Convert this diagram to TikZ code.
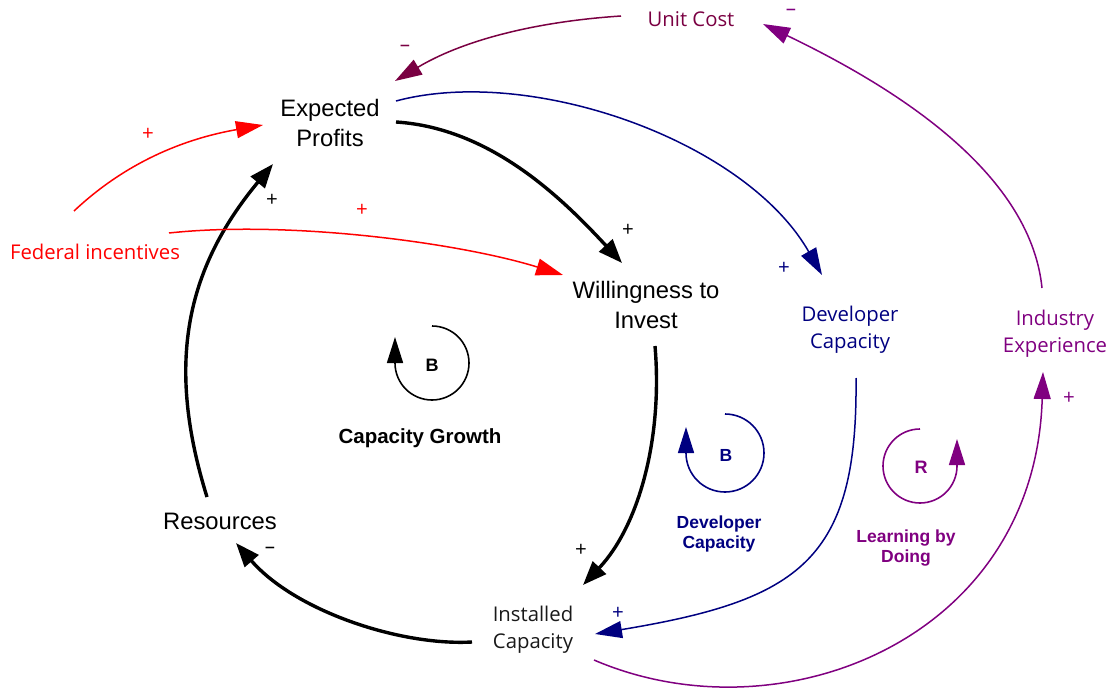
\documentclass[tikz,border=0pt]{standalone}
\usepackage{fontspec}
\setmainfont{Liberation Sans}
\newfontfamily\osans{Open Sans}
\usetikzlibrary{arrows.meta,calc}
\definecolor{cnavy}{RGB}{0,0,128}
\definecolor{cpurple}{RGB}{128,0,128}
\definecolor{cmaroon}{RGB}{122,0,66}
\definecolor{cred}{RGB}{255,0,0}
\begin{document}
\begin{tikzpicture}[x=1pt,y=-1pt,
  var/.style={align=center, font=\fontsize{23.8}{29.5}\selectfont, inner sep=0pt},
  ovar/.style={align=center, font=\osans\fontsize{20.3}{27}\selectfont, inner sep=0pt},
  bigarrow/.style={line width=3.4pt, -{Triangle[length=24pt,width=18pt]}},
  smallarrow/.style={line width=1.5pt, -{Triangle[length=27pt,width=17pt]}},
  sgn/.style={font=\osans\fontsize{20.5}{20.5}\selectfont, inner sep=0pt},
  sgnm/.style={sgn, text height=0.6ex, text depth=0pt},
  loopline/.style={line width=1.6pt, -{Triangle[length=26pt,width=16pt]}},
  looplab/.style={font=\bfseries\fontsize{17.5}{20.5}\selectfont, align=center, inner sep=0pt},
]
\useasboundingbox (0,0) rectangle (1108,690);

% variables
\node[var] (ep) at (330,123) {Expected\\Profits};
\node[var] (wi) at (646,305) {Willingness to\\Invest};
\node[var] (res) at (220,521) {Resources};
\node[ovar, text=black!90] (ic) at (533,630) {Installed\\Capacity};
\node[ovar, text=cred] (fi) at (95,252) {Federal incentives};
\node[ovar, text=cmaroon] (uc) at (691,19) {Unit Cost};
\node[ovar, text=cnavy] (dc) at (850,330) {Developer\\Capacity};
\node[ovar, text=cpurple] (ie) at (1055,334) {Industry\\Experience};

% capacity growth loop (black)
\draw[bigarrow] ($(ep)+(66,-1)$) .. controls (490,128) and (561,197) .. ($(wi)+(-24,-42)$);
\draw[bigarrow] ($(wi)+(9,41)$) .. controls (663,440) and (638,527) .. ($(ic)+(50,-45)$);
\draw[bigarrow] ($(ic)+(-61,12)$) .. controls (400,646) and (295,611) .. ($(res)+(16,22)$);
\draw[bigarrow] ($(res)+(-13,-24)$) .. controls (166,365) and (185,270) .. ($(ep)+(-57,41)$);

% federal incentives (red)
\draw[smallarrow, cred] ($(fi)+(-21,-41)$) .. controls (125,163) and (183,139) .. ($(ep)+(-67,2)$);
\draw[smallarrow, cred] ($(fi)+(74,-19)$) .. controls (290,220) and (460,243) .. ($(wi)+(-83,-30)$);

% developer capacity (navy)
\draw[smallarrow, cnavy] ($(ep)+(66,-22)$) .. controls (530,65) and (745,140) .. ($(dc)+(-28,-55)$);
\draw[smallarrow, cnavy] ($(dc)+(6,48)$) .. controls (858,560) and (800,600) .. ($(ic)+(62,4)$);

% learning by doing (purple)
\draw[smallarrow, cpurple] ($(ic)+(61,30)$) .. controls (780,740) and (1035,640) .. ($(ie)+(-12,38)$);
\draw[smallarrow, cpurple] ($(ie)+(-13,-46)$) .. controls (1030,170) and (890,85) .. ($(uc)+(72,5)$);
\draw[smallarrow, cmaroon] ($(uc)+(-70,-3)$) .. controls (530,22) and (460,42) .. ($(ep)+(65,-42)$);

% polarity signs
\node[sgn] (s1) at (628,230) {+};
\node[sgn] (s2) at (581,550) {+};
\node[sgnm] (s3) at (270,552) {\textendash};
\node[sgn] (s4) at (272,200) {+};
\node[sgn, text=cred] (s5) at (148,134) {+};
\node[sgn, text=cred] (s6) at (362,210) {+};
\node[sgn, text=cnavy] (s7) at (784,268) {+};
\node[sgn, text=cnavy] (s8) at (618,613) {+};
\node[sgn, text=cpurple] (s9) at (1069,398) {+};
\node[sgnm, text=cpurple] (s10) at (791,14) {\textendash};
\node[sgnm, text=cmaroon] (s11) at (405,50) {\textendash};

% loop markers
\coordinate (lb) at (432,363);
\draw[loopline] ($(lb)+(0,-37)$) arc[start angle=-90, end angle=180, radius=37] -- ++(0,-26);
\node[looplab, font=\bfseries\fontsize{18}{20}\selectfont] (lbt) at (432,365) {B};
\node[looplab, font=\bfseries\fontsize{20.5}{22}\selectfont] (lbl) at (420,438) {Capacity Growth};

\coordinate (ld) at (725,453);
\draw[loopline, cnavy] ($(ld)+(0,-39)$) arc[start angle=-90, end angle=180, radius=39] -- ++(0,-26);
\node[looplab, text=cnavy] (ldt) at (726,455) {B};
\node[looplab, text=cnavy] (ldl) at (719,534) {Developer\\Capacity};

\coordinate (lr) at (920,466);
\draw[loopline, cpurple] ($(lr)+(0,-37)$) arc[start angle=-90, end angle=-360, radius=37] -- ++(0,-27);
\node[looplab, text=cpurple, font=\bfseries\fontsize{18}{20}\selectfont] (lrt) at (921,467) {R};
\node[looplab, text=cpurple] (lrl) at (906,548) {Learning by\\Doing};
\end{tikzpicture}
\end{document}
